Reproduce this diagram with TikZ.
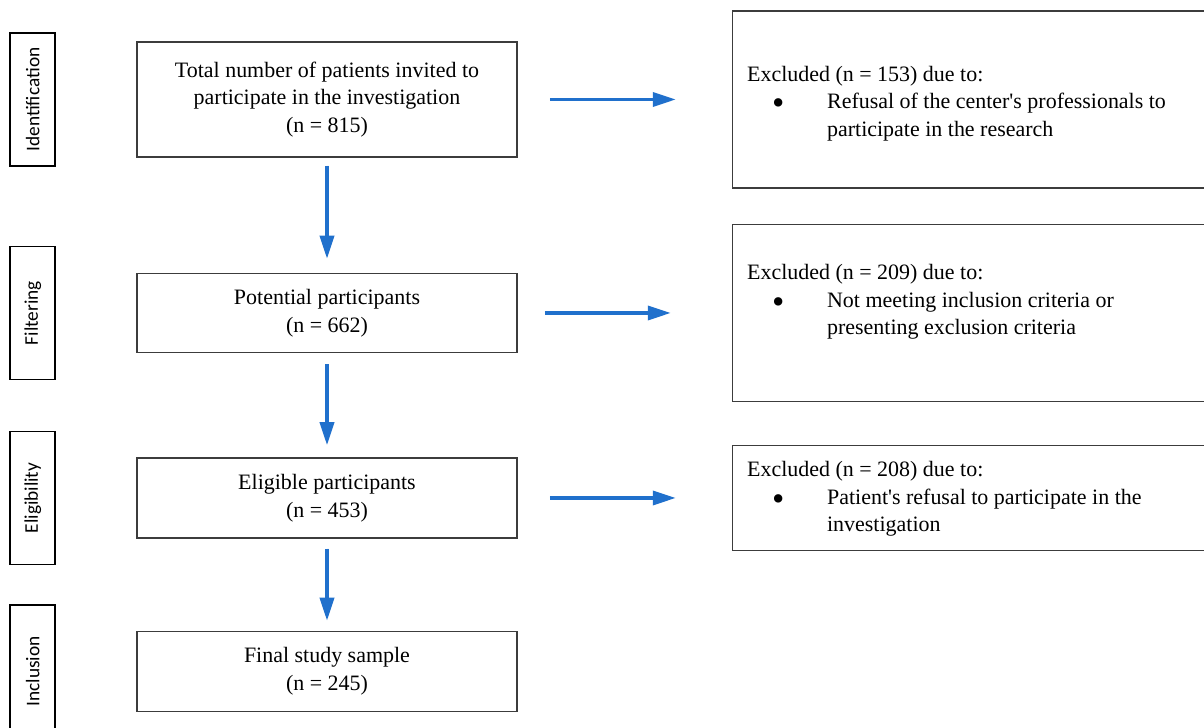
\documentclass[tikz,border=0pt]{standalone}
\usepackage{fontspec}
\setmainfont{Liberation Serif}
\newfontfamily\stagefont{Carlito}
\usepackage{tikz}
\usetikzlibrary{positioning, arrows.meta}
\usepackage{xcolor}
\definecolor{flowblue}{RGB}{32,112,204}
\definecolor{boxgray}{RGB}{60,60,60}
\newcommand{\exclbullet}{\makebox[1.6cm][l]{\hspace{0.5cm}\raisebox{-0.6ex}{\scalebox{1.6}{\textbullet}}}}

\begin{document}
\begin{tikzpicture}[
    node distance=2cm,
    box/.style={
        rectangle,
        draw=boxgray, line width=0.85pt,
        minimum width=7.6cm,
        align=center, font=\fontsize{12.5}{15.7}\selectfont
    },
    stage/.style={
        rectangle,
        draw=black, line width=1.1pt,
        minimum width=0.9cm, minimum height=2.66cm, inner sep=0pt,
        font=\stagefont\fontsize{11}{13}\selectfont
    },
    excl/.style={
        rectangle,
        draw=boxgray, line width=0.85pt,
        minimum width=9.58cm
    },
    excltext/.style={
        anchor=west, inner sep=0pt,
        align=left, font=\fontsize{12.5}{15.7}\selectfont
    },
    arrow/.style={-{Triangle[length=0.46cm, width=0.28cm]}, draw=flowblue, fill=flowblue, line width=2pt}
]

% Frame of the page
\clip (-6.54,1.99) rectangle (17.54,-12.57);

% Main column: from invited patients to final sample
\node[box, minimum height=2.3cm] (total) at (0,0) {Total number of patients invited to\\participate in the investigation\\(n = 815)};
\node[box, minimum height=1.58cm, below=2.3cm of total] (potential) {Potential participants\\(n = 662)};
\node[box, minimum height=1.6cm, below=2.08cm of potential] (eligible) {Eligible participants\\(n = 453)};
\node[box, minimum height=1.6cm, below=1.84cm of eligible] (final) {Final study sample\\(n = 245)};

% Arrows main column
\draw[arrow, shorten <=0.16cm, shorten >=0.28cm] (total) -- (potential);
\draw[arrow, shorten <=0.22cm, shorten >=0.24cm] (potential) -- (eligible);
\draw[arrow, shorten <=0.2cm, shorten >=0.2cm] (eligible) -- (final);

% Stage labels on the left
\node[stage, left=1.6cm of total] (ident) {\rotatebox{90}{Identification}};
\node[stage, left=1.6cm of potential] (filter) {\rotatebox{90}{Filtering}};
\node[stage, left=1.6cm of eligible] (elig) {\rotatebox{90}{Eligibility}};
\node[stage, left=1.6cm of final] (incl) {\rotatebox{90}{Inclusion}};

% Exclusion boxes on the right
\node[excl, minimum height=3.54cm, right=4.28cm of total] (exc1) {};
\node[excltext] (exc1txt) at ([xshift=0.3cm, yshift=-0.08cm]exc1.west) {Excluded (n = 153) due to:\\
    \exclbullet Refusal of the center\textquotesingle s professionals to\\
    \hspace*{1.6cm}participate in the research};

\node[excl, minimum height=3.54cm, right=4.28cm of potential] (exc2) {};
\node[excltext] (exc2txt) at ([xshift=0.3cm, yshift=0.22cm]exc2.west) {Excluded (n = 209) due to:\\
    \exclbullet Not meeting inclusion criteria or\\
    \hspace*{1.6cm}presenting exclusion criteria};

\node[excl, minimum height=2.1cm, right=4.28cm of eligible] (exc3) {};
\node[excltext] (exc3txt) at ([xshift=0.3cm, yshift=-0.02cm]exc3.west) {Excluded (n = 208) due to:\\
    \exclbullet Patient\textquotesingle s refusal to participate in the\\
    \hspace*{1.6cm}investigation};

% Arrows to the exclusion boxes
\draw[arrow, shorten <=0.64cm, shorten >=1.12cm] (total) -- (exc1);
\draw[arrow, shorten <=0.54cm, shorten >=1.22cm] (potential) -- (exc2);
\draw[arrow, shorten <=0.64cm, shorten >=1.12cm] (eligible) -- (exc3);

\end{tikzpicture}
\end{document}
